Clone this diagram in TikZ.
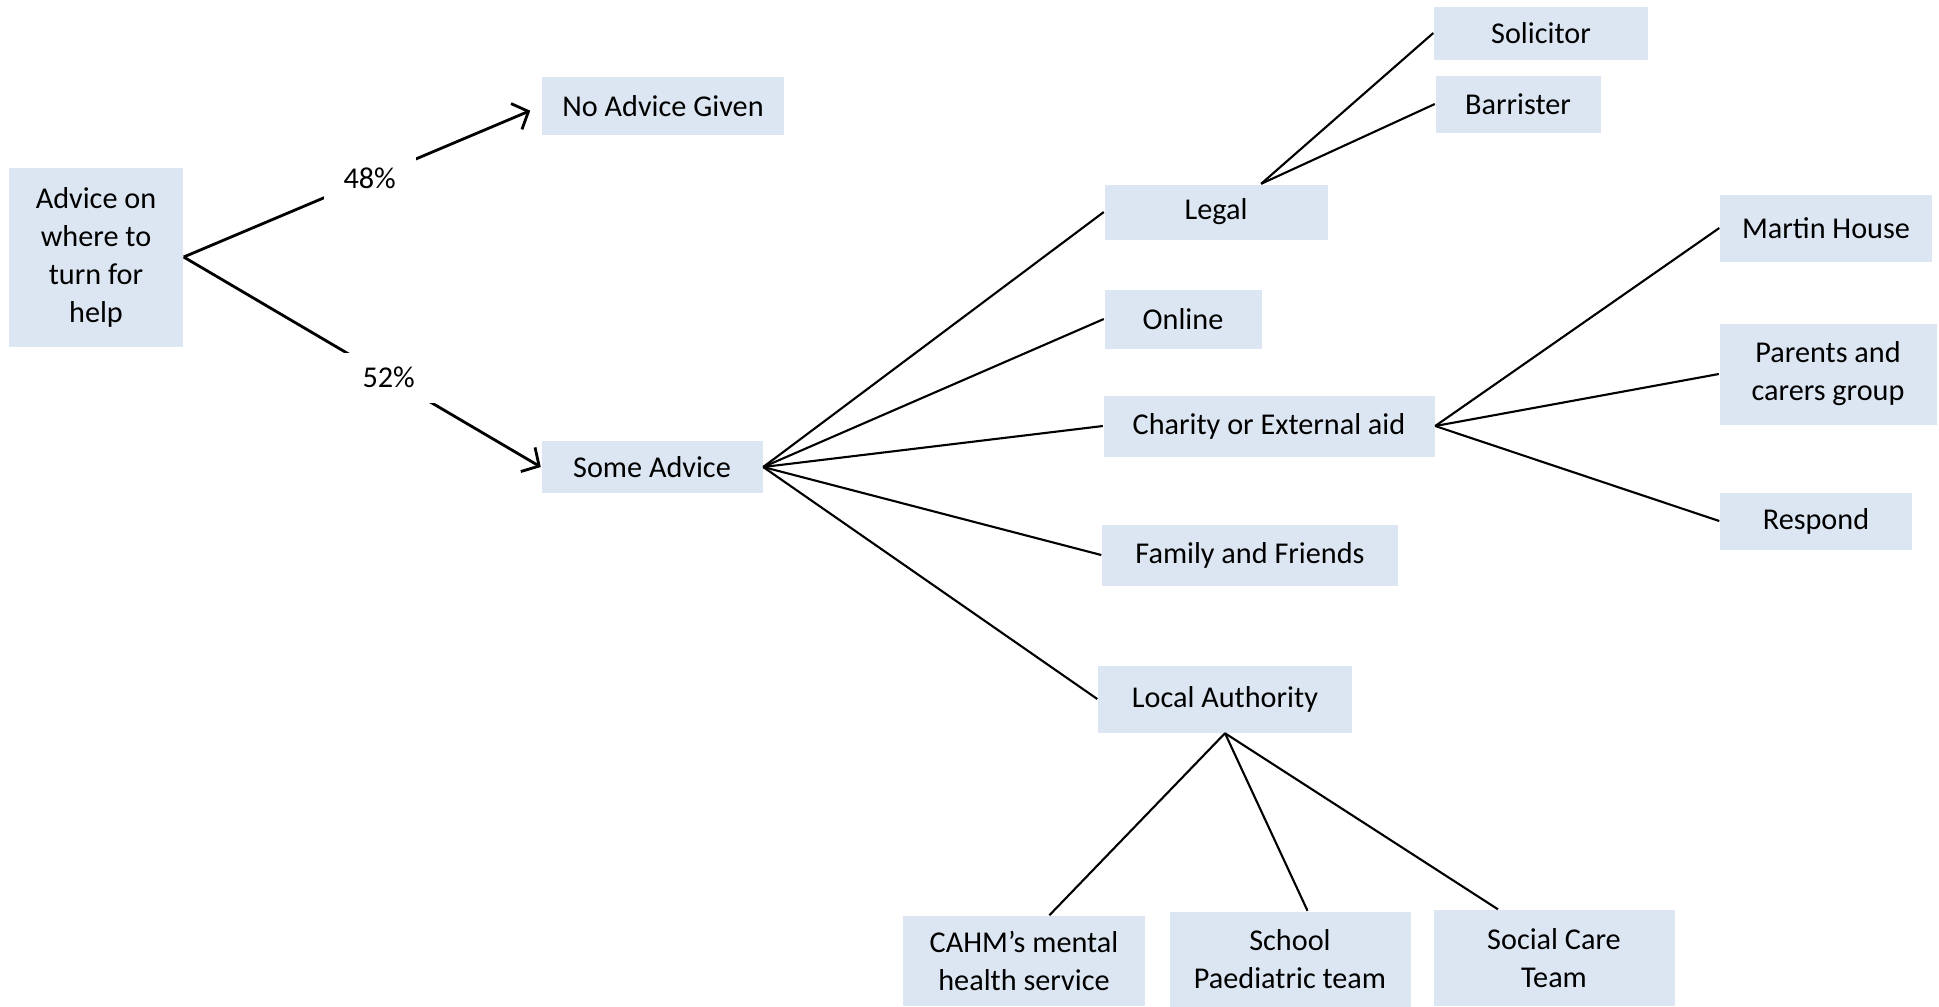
\documentclass[tikz,border=0pt]{standalone}
\usepackage{fontspec}
\setmainfont{Carlito}
\usetikzlibrary{arrows.meta}
\definecolor{boxblue}{HTML}{DCE6F2}

\begin{document}
\begin{tikzpicture}[
    every node/.style={font=\fontsize{8.6}{10.8}\selectfont},
    bx/.style={fill=boxblue, inner sep=0pt, align=center},
    ln/.style={line width=0.6pt},
    arr/.style={line width=0.8pt, -{Straight Barb[length=1.3mm, width=2.8mm]}},
    pct/.style={fill=white, inner sep=0pt, minimum width=0.92cm, minimum height=0.5cm},
  ]
  \useasboundingbox (0,0) rectangle (19.39,-10.06);
  \node[bx, minimum width=1.74cm, minimum height=1.79cm] (adv) at (0.96,-2.57) {Advice on\\where to\\turn for\\help};
  \node[bx, minimum width=2.42cm, minimum height=0.58cm] (noadv) at (6.63,-1.06) {No Advice Given};
  \node[bx, minimum width=2.21cm, minimum height=0.52cm] (some) at (6.52,-4.67) {Some Advice};
  \node[bx, minimum width=2.23cm, minimum height=0.55cm] (legal) at (12.16,-2.12) {Legal};
  \node[bx, minimum width=1.57cm, minimum height=0.59cm] (online) at (11.83,-3.19) {Online};
  \node[bx, minimum width=3.31cm, minimum height=0.61cm] (charity) at (12.69,-4.26) {Charity or External aid};
  \node[bx, minimum width=2.96cm, minimum height=0.61cm] (family) at (12.50,-5.55) {Family and Friends};
  \node[bx, minimum width=2.54cm, minimum height=0.67cm] (local) at (12.25,-6.99) {Local Authority};
  \node[bx, minimum width=2.14cm, minimum height=0.53cm] (solic) at (15.41,-0.33) {Solicitor};
  \node[bx, minimum width=1.65cm, minimum height=0.57cm] (barr) at (15.18,-1.04) {Barrister};
  \node[bx, minimum width=2.12cm, minimum height=0.67cm] (martin) at (18.26,-2.28) {Martin House};
  \node[bx, minimum width=2.17cm, minimum height=1.01cm] (parents) at (18.28,-3.74) {Parents and\\carers group};
  \node[bx, minimum width=1.92cm, minimum height=0.57cm] (respond) at (18.16,-5.21) {Respond};
  \node[bx, minimum width=2.42cm, minimum height=0.90cm] (cahm) at (10.24,-9.61) {CAHM’s mental\\health service};
  \node[bx, minimum width=2.41cm, minimum height=0.95cm] (school) at (12.90,-9.59) {School\\Paediatric team};
  \node[bx, minimum width=2.41cm, minimum height=0.96cm] (social) at (15.54,-9.58) {Social Care\\Team};
  % first split
  \draw[arr, shorten >=0.12cm] (adv.east) -- node[pct, pos=0.52] {48\%} (noadv.west);
  \draw[arr] (adv.east) -- node[pct, pos=0.574] {52\%} (some.west);
  % kinds of advice
  \draw[ln] (some.east) -- (legal.west);
  \draw[ln] (some.east) -- (online.west);
  \draw[ln] (some.east) -- (charity.west);
  \draw[ln] (some.east) -- (family.west);
  \draw[ln] (some.east) -- (local.west);
  \draw[ln] (legal.32) -- (solic.west);
  \draw[ln] (legal.32) -- (barr.west);
  \draw[ln] (charity.east) -- (martin.west);
  \draw[ln] (charity.east) -- (parents.west);
  \draw[ln] (charity.east) -- (respond.west);
  \draw[ln] (local.south) -- (cahm.61);
  \draw[ln] (local.south) -- (school.70);
  \draw[ln] (local.south) -- (social.139);
\end{tikzpicture}
\end{document}
